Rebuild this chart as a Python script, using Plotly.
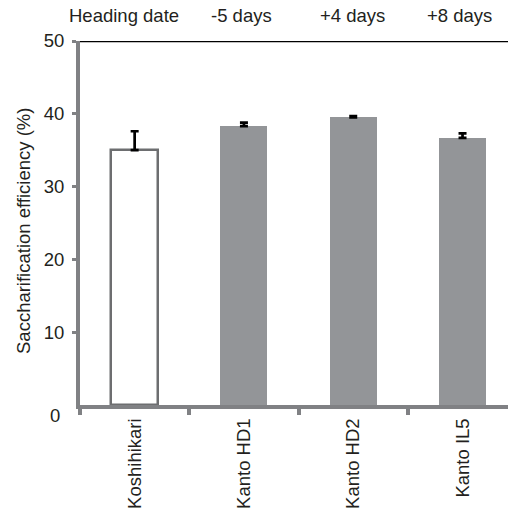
import plotly.graph_objects as go

categories = ["Koshihikari", "Kanto HD1", "Kanto HD2", "Kanto IL5"]
heading = ["Heading date", "-5 days", "+4 days", "+8 days"]
values = [35.0, 38.3, 39.5, 36.7]
errors = [2.6, 0.5, 0.2, 0.6]
yticks = [10, 20, 30, 40, 50]

GRAY = "#808184"
BAR = "#939598"
TXT = "#231f20"
FONT = "Liberation Sans, Arial, sans-serif"
FS = 18.5

xs = list(range(len(categories)))
fig = go.Figure()
fig.add_trace(go.Bar(
    x=xs, y=values, width=0.43,
    marker=dict(color=["white", BAR, BAR, BAR],
                line=dict(color=["#6d6e70", BAR, BAR, BAR], width=[2.5, 0, 0, 0])),
    error_y=dict(type="data", symmetric=False, array=errors, arrayminus=[0]*4,
                 color="black", thickness=2.7, width=4),
    xaxis="x", yaxis="y", showlegend=False,
))
fig.add_trace(go.Scatter(x=[0], y=[0], xaxis="x2", yaxis="y", mode="markers",
                         marker=dict(opacity=0), showlegend=False, hoverinfo="skip"))

PW, PH = 428, 364
xr = [-0.5, 3.416]
fig.update_layout(
    width=508, height=517,
    margin=dict(l=80, r=0, t=41, b=112, autoexpand=False),
    paper_bgcolor="white", plot_bgcolor="white",
    font=dict(family=FONT, size=FS, color=TXT),
    xaxis=dict(range=xr, tickmode="array", tickvals=xs, ticktext=categories,
               tickangle=-90, ticks="", ticklen=0, showline=True, linecolor=GRAY,
               linewidth=4, showgrid=False, zeroline=False, ticklabelstandoff=2,
               automargin=False, tickfont=dict(size=FS, color=TXT)),
    xaxis2=dict(range=xr, overlaying="x", anchor="y", side="bottom",
                tickmode="array", tickvals=[-0.5, 0.5, 1.5, 2.5], ticks="outside",
                ticklen=9, tickwidth=3.5, tickcolor=GRAY, showticklabels=False,
                showgrid=False, zeroline=False, showline=False),
    yaxis=dict(range=[0, 50], tickmode="array", tickvals=yticks,
               ticktext=[str(v) for v in yticks], ticks="outside", ticklen=4,
               tickwidth=3, tickcolor=GRAY, showline=True, linecolor=GRAY,
               linewidth=4, showgrid=False, zeroline=False, automargin=False,
               ticklabelstandoff=4, tickfont=dict(size=FS, color=TXT)),
    bargap=0,
)
fig.add_shape(type="line", xref="paper", yref="y", x0=0, x1=1, y0=50, y1=50,
              line=dict(color="black", width=2.5))
fig.add_annotation(text="0", xref="paper", yref="paper", x=-18/PW, y=-10.5/PH,
                   xanchor="right", yanchor="middle", showarrow=False,
                   font=dict(size=FS, color=TXT))
fig.add_annotation(text="Saccharification efficiency (%)", xref="paper", yref="paper",
                   x=-56/PW, y=0.5 - 8/PH, textangle=-90, xanchor="center",
                   yanchor="middle", showarrow=False, font=dict(size=FS, color=TXT))
hx = [-0.097, 0.975, 1.99, 2.97]
for t, x in zip(heading, hx):
    fig.add_annotation(text=t, xref="x", yref="paper", x=x, y=1 + 26/PH,
                       xanchor="center", yanchor="middle", showarrow=False,
                       font=dict(size=FS, color=TXT))

fig.write_html("out.html", config={"displayModeBar": False},
               post_script="document.body.style.margin='0';")
